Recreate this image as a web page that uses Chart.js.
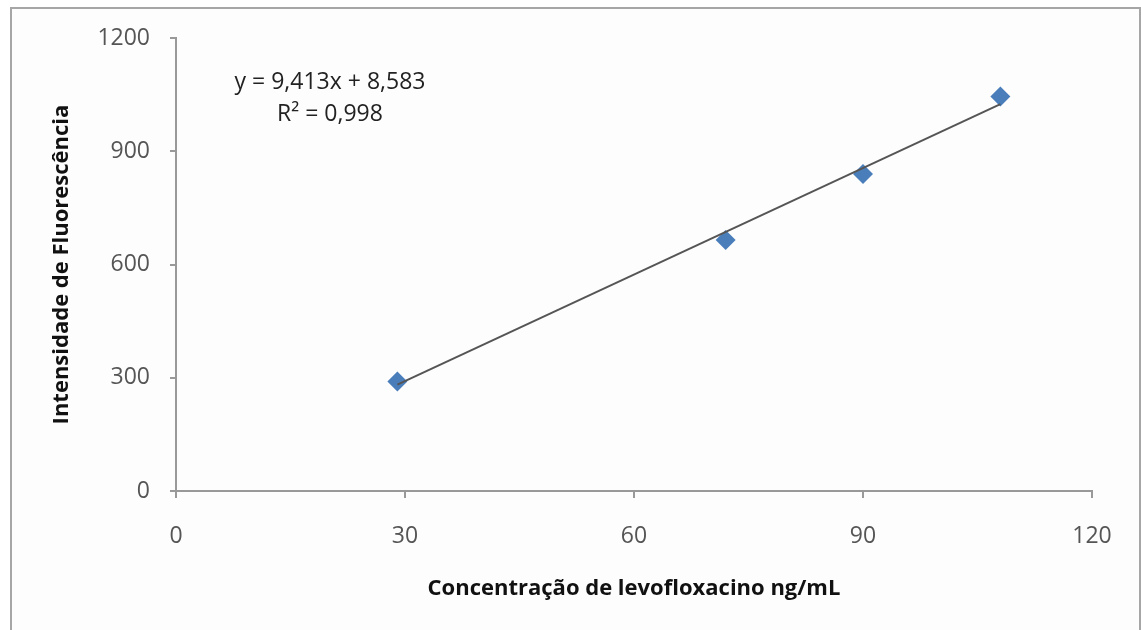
<!DOCTYPE html>
<html>
<head>
<meta charset="utf-8">
<script src="https://cdn.jsdelivr.net/npm/chart.js@4.4.0/dist/chart.umd.min.js"></script>
<style>
    html, body { margin: 0; padding: 0; background: #ffffff; overflow: hidden; }
    .frame {
        position: absolute; left: 10px; top: 7px;
        width: 1127px; height: 640px;
        border: 2px solid #a6a6a6;
        background: #fdfdfd;
    }
    .wrap { position: absolute; left: 0; top: 0; width: 1141px; height: 630px; }
</style>
</head>
<body>
<div class="frame"></div>
<div class="wrap"><canvas id="chart" width="1141" height="630"></canvas></div>
<script>
// Measured points (concentration ng/mL vs fluorescence intensity)
const concentrations = [29, 72, 90, 108];
const intensities = [290, 665, 840, 1045];

// Linear trendline endpoints
const trendX = [29, 108];
const trendY = [282, 1025];

const xTicks = [0, 30, 60, 90, 120];
const yTicks = [0, 300, 600, 900, 1200];

const equationLines = ['y = 9,413x + 8,583', 'R² = 0,998'];

const fontFamily = '"Open Sans", Lato, sans-serif';

const equationPlugin = {
    id: 'equationLabel',
    afterDatasetsDraw(chart) {
        const ctx = chart.ctx;
        const area = chart.chartArea;
        ctx.save();
        ctx.fillStyle = '#222';
        ctx.font = '23px ' + fontFamily;
        ctx.textAlign = 'center';
        ctx.textBaseline = 'middle';
        ctx.fillText(equationLines[0], area.left + 154, area.top + 44);
        ctx.fillText(equationLines[1], area.left + 154, area.top + 76);
        ctx.restore();
    }
};

const ctx = document.getElementById('chart').getContext('2d');
new Chart(ctx, {
    type: 'scatter',
    data: {
        datasets: [
            {
                label: 'Trend',
                type: 'line',
                data: trendX.map((x, i) => ({ x: x, y: trendY[i] })),
                borderColor: '#555',
                borderWidth: 2,
                pointRadius: 0,
                fill: false
            },
            {
                label: 'Levofloxacino',
                data: concentrations.map((x, i) => ({ x: x, y: intensities[i] })),
                pointStyle: 'rectRot',
                pointRadius: 10,
                pointHoverRadius: 10,
                backgroundColor: '#4a7ebb',
                borderColor: '#4a7ebb',
                borderWidth: 0
            }
        ]
    },
    options: {
        responsive: false,
        animation: false,
        events: [],
        layout: { padding: { left: 12, right: 49, top: 38, bottom: 28 } },
        plugins: {
            legend: { display: false },
            tooltip: { enabled: false }
        },
        scales: {
            x: {
                type: 'linear',
                min: 0,
                max: 120,
                afterBuildTicks: (scale) => { scale.ticks = xTicks.map(v => ({ value: v })); },
                afterFit: (scale) => { scale.height = 111; },
                border: { color: '#999', width: 2 },
                grid: { drawOnChartArea: false, tickLength: 7, color: '#999', lineWidth: 2 },
                ticks: {
                    color: '#555',
                    font: { family: fontFamily, size: 23 },
                    padding: 25,
                    maxRotation: 0,
                    callback: (v) => String(v)
                },
                title: {
                    display: true,
                    text: 'Concentração de levofloxacino ng/mL',
                    color: '#111',
                    font: { family: fontFamily, size: 22, weight: 'bold' },
                    padding: { top: 18, bottom: 0 }
                }
            },
            y: {
                type: 'linear',
                min: 0,
                max: 1200,
                afterBuildTicks: (scale) => { scale.ticks = yTicks.map(v => ({ value: v })); },
                afterFit: (scale) => { scale.width = 164; },
                border: { color: '#999', width: 2 },
                grid: { drawOnChartArea: false, tickLength: 6, color: '#999', lineWidth: 2 },
                ticks: {
                    color: '#555',
                    font: { family: fontFamily, size: 23 },
                    padding: 20,
                    callback: (v) => String(v)
                },
                title: {
                    display: true,
                    text: 'Intensidade de Fluorescência',
                    color: '#111',
                    font: { family: fontFamily, size: 22, weight: 'bold' },
                    padding: { top: 37, bottom: 0 }
                }
            }
        }
    },
    plugins: [equationPlugin]
});
</script>
</body>
</html>
